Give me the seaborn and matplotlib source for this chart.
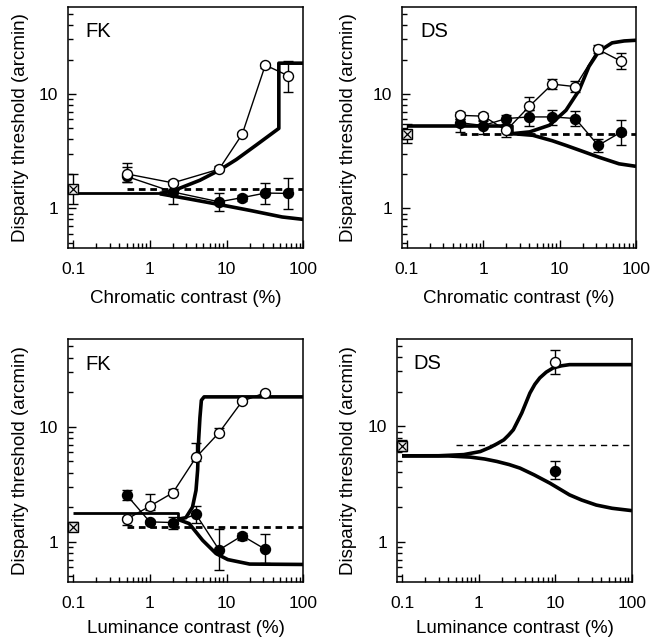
import matplotlib
matplotlib.use("Agg")
import matplotlib.pyplot as plt
import seaborn as sns
import numpy as np
import pandas as pd
from matplotlib.ticker import FixedLocator, FixedFormatter, NullFormatter

# ---------------- data ----------------
# Panel A: FK, chromatic contrast
fkc_x = [0.5, 2, 8, 16, 32, 64]
fkc_open_y = [2.0, 1.67, 2.2, 4.45, 17.9, 14.4]
fkc_open_lo = [1.7, 1.6, 2.1, 4.3, 17.0, 10.5]
fkc_open_hi = [2.5, 1.75, 2.35, 4.65, 18.8, 19.5]
fkc_fill_y = [1.9, 1.39, 1.14, 1.24, 1.36, 1.35]
fkc_fill_lo = [1.7, 1.08, 0.95, 1.16, 1.1, 0.98]
fkc_fill_hi = [2.3, 1.76, 1.36, 1.32, 1.66, 1.83]
fkc_ref = [0.1, 1.49, 1.1, 1.99]          # x, y, lo, hi
fkc_dash = [0.5, 100, 1.48]                # x0, x1, y
fkc_flat_x = [0.1, 1.35]
fkc_flat_y = [1.35, 1.35]
fkc_up_x = [1.35, 2, 4.5, 8, 13.4, 24.3, 48, 48, 100]
fkc_up_y = [1.35, 1.42, 1.76, 2.15, 2.67, 3.57, 5.0, 18.6, 18.6]
fkc_lo_x = [1.35, 3, 8, 20, 53, 100]
fkc_lo_y = [1.34, 1.22, 1.08, 0.96, 0.84, 0.8]

# Panel B: DS, chromatic contrast
dsc_x = [0.5, 1, 2, 4, 8, 16, 32, 64]
dsc_open_y = [6.5, 6.4, 4.8, 7.8, 12.2, 11.6, 24.5, 19.3]
dsc_open_lo = [6.0, 5.9, 4.2, 7.3, 11.0, 10.4, 22.9, 16.5]
dsc_open_hi = [7.0, 6.8, 5.1, 9.5, 13.5, 13.1, 27.0, 22.9]
dsc_fill_y = [5.6, 5.3, 6.1, 6.3, 6.3, 6.1, 3.55, 4.65]
dsc_fill_lo = [4.65, 4.5, 5.5, 5.3, 5.4, 5.3, 3.1, 3.55]
dsc_fill_hi = [6.1, 5.8, 6.6, 7.2, 7.2, 7.1, 4.06, 5.9]
dsc_ref = [0.1, 4.5, 3.7, 5.5]
dsc_dash = [0.5, 100, 4.5]
dsc_flat_x = [0.1, 2.4, 2.4]
dsc_flat_y = [5.2, 5.2, 4.5]
dsc_up_x = [2.4, 4.04, 7.35, 12.1, 18, 24.2, 32.6, 48.6, 70, 100]
dsc_up_y = [4.5, 4.66, 5.33, 7.2, 10.8, 17.4, 23.6, 28, 29.1, 29.5]
dsc_lo_x = [2.4, 4.46, 8, 12.1, 20, 32.6, 60, 100]
dsc_lo_y = [4.5, 4.35, 3.9, 3.55, 3.15, 2.8, 2.45, 2.33]

# Panel C: FK, luminance contrast
fkl_x = [0.5, 1, 2, 4, 8, 16, 32]
fkl_open_y = [1.57, 2.04, 2.67, 5.42, 8.9, 16.7, 19.8]
fkl_open_lo = [1.4, 1.9, 2.55, 5.0, 8.5, 16.0, 19.2]
fkl_open_hi = [1.65, 2.6, 2.85, 7.2, 9.7, 17.4, 20.4]
fkl_fill_y = [2.55, 1.49, 1.47, 1.73, 0.85, 1.13, 0.86]
fkl_fill_lo = [2.3, 1.42, 1.3, 1.47, 0.57, 1.03, 0.65]
fkl_fill_hi = [2.8, 1.55, 1.65, 2.05, 1.28, 1.2, 1.16]
fkl_ref = [0.1, 1.35, 1.23, 1.5]
fkl_dash = [0.5, 100, 1.35]
fkl_flat_x = [0.1, 2.3, 2.3]
fkl_flat_y = [1.79, 1.79, 1.57]
fkl_up_x = [2.3, 2.95, 3.6, 4.0, 4.2, 4.33, 4.5, 4.7, 5.1, 100]
fkl_up_y = [1.57, 1.62, 2.0, 2.8, 4.2, 7.7, 12, 17, 18.2, 18.2]
fkl_lo_x = [2.3, 3.26, 4.88, 7.3, 10.4, 20, 100]
fkl_lo_y = [1.57, 1.44, 1.03, 0.79, 0.7, 0.64, 0.635]

# Panel D: DS, luminance contrast
dsl_x = [10]
dsl_open_y = [36.0]
dsl_open_lo = [28.5]
dsl_open_hi = [46.4]
dsl_fill_y = [4.12]
dsl_fill_lo = [3.48]
dsl_fill_hi = [4.97]
dsl_ref = [0.1, 6.8, 6.1, 7.6]
dsl_dash = [0.5, 100, 6.88]
dsl_up_x = [0.1, 0.3, 0.64, 1.05, 1.42, 1.75, 2.13, 2.45, 2.83, 3.2, 3.65, 4.66,
            5.4, 6.27, 7.6, 9.35, 12, 15.3, 100]
dsl_up_y = [5.56, 5.57, 5.7, 6.06, 6.6, 7.1, 7.66, 8.4, 9.36, 11.0, 13.1, 19.5,
            23.2, 26.4, 29.6, 32.2, 33.6, 34.4, 34.4]
dsl_lo_x = [0.1, 0.4, 0.78, 1.2, 1.73, 2.5, 3.46, 5.3, 8.5, 15.3, 22, 34.2, 55, 100]
dsl_lo_y = [5.56, 5.55, 5.42, 5.22, 4.97, 4.67, 4.35, 3.8, 3.22, 2.55, 2.3, 2.08, 1.95, 1.86]

x_ticks = [0.1, 1, 10, 100]
x_ticklabels = ["0.1", "1", "10", "100"]
y_ticks = [1, 10]
y_ticklabels = ["1", "10"]
y_label = "Disparity threshold (arcmin)"
x_label_chrom = "Chromatic contrast (%)"
x_label_lum = "Luminance contrast (%)"

# ---------------- style ----------------
sns.set_style("ticks")
plt.rcParams["font.family"] = ["Liberation Sans", "DejaVu Sans"]
plt.rcParams["axes.edgecolor"] = "black"
plt.rcParams["xtick.color"] = "black"
plt.rcParams["ytick.color"] = "black"
plt.rcParams["text.color"] = "black"
plt.rcParams["axes.labelcolor"] = "black"

fig = plt.figure(figsize=(6.59, 6.40), dpi=100)
W, H = 659.0, 640.0


def add_ax(left, top, right, bottom):
    return fig.add_axes([left / W, 1 - bottom / H, (right - left) / W, (bottom - top) / H])


axA = add_ax(68, 6.7, 303.3, 248.3)
axB = add_ax(402, 6.7, 636, 248.3)
axC = add_ax(68, 339, 303.3, 582)
axD = add_ax(397, 338.5, 632, 582)

x_minor = [k * 10.0 ** e for e in (-1, 0, 1) for k in range(2, 10)]
y_minor = [0.5, 0.6, 0.7, 0.8, 0.9] + [k for k in range(2, 10)] + [20, 30, 40, 50]


def setup(ax, xlabel, panel, px, ylab_x, xlab_y):
    ax.set_xscale("log")
    ax.set_yscale("log")
    ax.set_xlim(0.086, 100)
    ax.set_ylim(0.447, 58)
    ax.xaxis.set_major_locator(FixedLocator(x_ticks))
    ax.xaxis.set_major_formatter(FixedFormatter(x_ticklabels))
    ax.xaxis.set_minor_locator(FixedLocator(x_minor))
    ax.xaxis.set_minor_formatter(NullFormatter())
    ax.yaxis.set_major_locator(FixedLocator(y_ticks))
    ax.yaxis.set_major_formatter(FixedFormatter(y_ticklabels))
    ax.yaxis.set_minor_locator(FixedLocator(y_minor))
    ax.yaxis.set_minor_formatter(NullFormatter())
    ax.tick_params(which="both", direction="in", top=False, right=False, width=1.0)
    ax.tick_params(which="major", length=6, labelsize=12.5)
    ax.tick_params(axis="x", which="major", pad=10)
    ax.tick_params(axis="y", which="major", pad=7)
    ax.tick_params(which="minor", length=3.5)
    for s in ax.spines.values():
        s.set_visible(True)
        s.set_linewidth(1.1)
        s.set_color("black")
    ax.set_xlabel(xlabel, fontsize=13.5)
    ax.set_ylabel(y_label, fontsize=13.5)
    ax.xaxis.set_label_coords(0.5, xlab_y)
    ax.yaxis.set_label_coords(ylab_x, 0.5)
    ax.text(px, 0.935, panel, transform=ax.transAxes, fontsize=14.5, ha="left", va="top")
    ax.set_facecolor("white")


def model(ax, xs, ys, lw=2.6):
    df = pd.DataFrame({"x": xs, "y": ys})
    sns.lineplot(data=df, x="x", y="y", ax=ax, color="black", linewidth=lw,
                 sort=False, estimator=None, errorbar=None, legend=False,
                 solid_joinstyle="round", solid_capstyle="butt", zorder=2)


def dash(ax, d, lw=2.0, pattern=(2.4, 1.7)):
    ax.plot([d[0], d[1]], [d[2], d[2]], color="black", linewidth=lw,
            linestyle=(0, pattern), zorder=2.5)


def data(ax, xs, y, lo, hi, filled, connect=True):
    xs = np.asarray(xs, float)
    y = np.asarray(y, float)
    lo = np.asarray(lo, float)
    hi = np.asarray(hi, float)
    if connect and len(xs) > 1:
        df = pd.DataFrame({"x": xs, "y": y})
        sns.lineplot(data=df, x="x", y="y", ax=ax, color="black", linewidth=1.0,
                     sort=False, estimator=None, errorbar=None, legend=False, zorder=3)
    ax.errorbar(xs, y, yerr=[y - lo, hi - y], fmt="none", ecolor="black",
                elinewidth=1.0, capsize=3.5, capthick=1.0, zorder=3.5)
    ax.plot(xs, y, linestyle="none", marker="o", markersize=7.2,
            markerfacecolor="black" if filled else "white",
            markeredgecolor="black", markeredgewidth=1.0,
            zorder=5 if not filled else 4)


def ref(ax, r):
    ax.errorbar([r[0]], [r[1]], yerr=[[r[1] - r[2]], [r[3] - r[1]]], fmt="none",
                ecolor="black", elinewidth=1.0, capsize=3.5, capthick=1.0,
                zorder=5, clip_on=False)
    ax.plot([r[0]], [r[1]], marker="s", markersize=7, markerfacecolor="#e8e8e8",
            markeredgecolor="black", markeredgewidth=1.0, linestyle="none",
            zorder=6, clip_on=False)
    ax.plot([r[0]], [r[1]], marker="x", markersize=6, markeredgecolor="black",
            markeredgewidth=0.9, linestyle="none", zorder=7, clip_on=False)


# Panel A
setup(axA, x_label_chrom, "FK", 0.072, -0.166, -0.172)
model(axA, fkc_flat_x, fkc_flat_y, lw=2.0)
model(axA, fkc_up_x, fkc_up_y)
model(axA, fkc_lo_x, fkc_lo_y)
dash(axA, fkc_dash)
data(axA, fkc_x, fkc_fill_y, fkc_fill_lo, fkc_fill_hi, True)
data(axA, fkc_x, fkc_open_y, fkc_open_lo, fkc_open_hi, False)
ref(axA, fkc_ref)

# Panel B
setup(axB, x_label_chrom, "DS", 0.077, -0.192, -0.172)
model(axB, dsc_flat_x, dsc_flat_y)
model(axB, dsc_up_x, dsc_up_y)
model(axB, dsc_lo_x, dsc_lo_y)
dash(axB, dsc_dash)
data(axB, dsc_x, dsc_fill_y, dsc_fill_lo, dsc_fill_hi, True)
data(axB, dsc_x, dsc_open_y, dsc_open_lo, dsc_open_hi, False)
ref(axB, dsc_ref)

# Panel C
setup(axC, x_label_lum, "FK", 0.072, -0.166, -0.158)
model(axC, fkl_flat_x, fkl_flat_y, lw=2.0)
model(axC, fkl_up_x, fkl_up_y)
model(axC, fkl_lo_x, fkl_lo_y)
dash(axC, fkl_dash)
data(axC, fkl_x, fkl_fill_y, fkl_fill_lo, fkl_fill_hi, True)
data(axC, fkl_x, fkl_open_y, fkl_open_lo, fkl_open_hi, False)
ref(axC, fkl_ref)

# Panel D
setup(axD, x_label_lum, "DS", 0.068, -0.17, -0.158)
model(axD, dsl_up_x, dsl_up_y)
model(axD, dsl_lo_x, dsl_lo_y)
dash(axD, dsl_dash, lw=1.0, pattern=(4.5, 3.5))
data(axD, dsl_x, dsl_fill_y, dsl_fill_lo, dsl_fill_hi, True, connect=False)
data(axD, dsl_x, dsl_open_y, dsl_open_lo, dsl_open_hi, False, connect=False)
ref(axD, dsl_ref)

for ax in (axA, axB, axC, axD):
    ax.set_xlim(0.086, 100)
    ax.set_ylim(0.447, 58)

fig.savefig("out.png", dpi=100, facecolor="white")
